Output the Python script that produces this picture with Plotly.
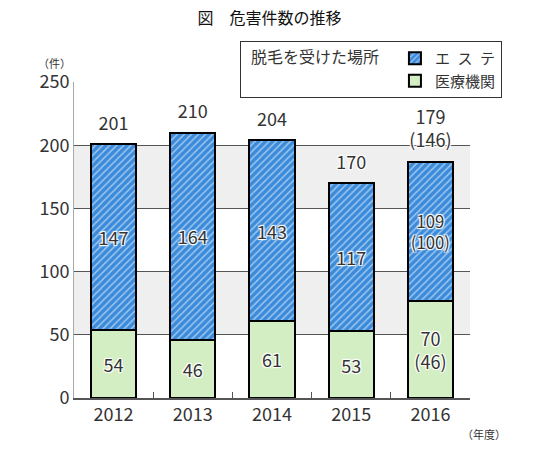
import plotly.graph_objects as go

years = ["2012", "2013", "2014", "2015", "2016"]
# drawn bar heights
medical = [54, 46, 61, 53, 77]
este = [147, 164, 143, 117, 110]
# labels printed on the chart
medical_labels = ["54", "46", "61", "53", "70<br>(46)"]
este_labels = ["147", "164", "143", "117", "109<br>(100)"]
total_labels = ["201", "210", "204", "170", "179<br>(146)"]
y_ticks = [0, 50, 100, 150, 200, 250]

FONT = "Noto Sans CJK JP, Noto Sans, sans-serif"
BLUE = "#3b8bdb"
GREEN = "#d3eec3"
HALO = ("white 1px 1px 1px, white -1px -1px 1px, white 1px -1px 1px, "
        "white -1px 1px 1px, white 0px 0px 2px")

totals = [m + e for m, e in zip(medical, este)]

fig = go.Figure()
fig.add_trace(go.Bar(
    x=years, y=medical, name="医療機関", width=0.57,
    marker=dict(color=GREEN, line=dict(color="black", width=2)),
    text=medical_labels, textposition="inside", insidetextanchor="middle",
    textfont=dict(size=18, color="#333", family=FONT, shadow=HALO),
    hoverinfo="skip",
))
fig.add_trace(go.Bar(
    x=years, y=este, name="エ\u2002ス\u2002テ", width=0.57,
    marker=dict(color=BLUE, line=dict(color="black", width=2),
                pattern=dict(shape="/", fgcolor="white", bgcolor=BLUE,
                             size=5, solidity=0.3)),
    text=este_labels, textposition="inside", insidetextanchor="middle",
    textfont=dict(size=18, color="#333", family=FONT, shadow=HALO),
    hoverinfo="skip",
))
fig.add_trace(go.Scatter(
    x=years, y=totals, mode="markers+text", text=total_labels,
    textposition="top center", showlegend=False, hoverinfo="skip",
    marker=dict(size=14, opacity=0),
    textfont=dict(size=18, color="#333", family=FONT, shadow=HALO),
))

# grey bands
for y0, y1 in [(50, 100), (150, 200)]:
    fig.add_shape(type="rect", xref="paper", yref="y", x0=0, x1=1,
                  y0=y0, y1=y1, fillcolor="#efefef", line_width=0,
                  layer="below")

fig.add_annotation(text="（件）", xref="paper", yref="paper", x=-0.05, y=1.06,
                   xanchor="center", yanchor="middle", showarrow=False,
                   font=dict(size=11, color="#333", family=FONT))
fig.add_annotation(text="（年度）", xref="paper", yref="paper", x=1.035, y=-0.115,
                   xanchor="center", yanchor="middle", showarrow=False,
                   font=dict(size=11, color="#333", family=FONT))

fig.update_layout(
    width=539, height=453,
    margin=dict(l=74, r=69, t=82, b=55, autoexpand=False),
    paper_bgcolor="white", plot_bgcolor="white",
    barmode="stack",
    font=dict(family=FONT, color="#222"),
    title=dict(text="図　危害件数の推移", x=0.5, xanchor="center",
               y=1 - 18 / 453, yanchor="middle",
               font=dict(size=16, color="#111", family=FONT)),
    showlegend=True,
    legend=dict(
        x=0.419, y=1.13, xanchor="left", yanchor="top",
        bgcolor="white", bordercolor="#333", borderwidth=1,
        title=dict(text="\u2002脱毛を受けた場所\u2002", side="left",
                   font=dict(size=16, color="#333", family=FONT)),
        font=dict(size=15, color="#333", family=FONT),
        traceorder="reversed",
    ),
    xaxis=dict(
        type="category", tickson="boundaries", ticks="inside", ticklen=6,
        tickcolor="#555", showline=True, linecolor="#555", linewidth=1.5,
        tickfont=dict(size=18, color="#333", family=FONT),
        showgrid=False, automargin=False,
    ),
    yaxis=dict(
        range=[0, 250], tickvals=y_ticks, showline=True, linecolor="#aaa",
        linewidth=1, gridcolor="#555", gridwidth=1, zeroline=False,
        tickfont=dict(size=18, color="#333", family=FONT), ticks="",
        automargin=False,
    ),
)

fig.write_html("out.html", config={"displayModeBar": False},
               post_script="document.body.style.margin='0';"
                           "document.body.style.padding='0';")
